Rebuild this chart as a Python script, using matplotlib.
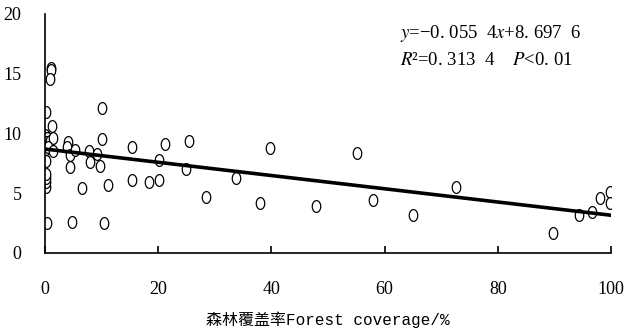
import numpy as np
import matplotlib
matplotlib.use("Agg")
import matplotlib.pyplot as plt

# scatter data
forest = [0.3, 0.2, 0.2, 0.2, 0.2, 0.2, 0.2, 0.2, 0.2, 0.0, 0.3, 0.2, 0.9, 1.4,
          0.1, 0.6, 1.5, 1.0, 1.0, 0.9, 0.2, 1.2,
          4.1, 3.8, 4.4, 5.3, 4.4, 4.7, 6.5, 7.8, 7.95, 9.2, 9.7, 10.0, 10.0,
          10.4, 11.2, 15.3, 15.3, 18.3, 20.2, 20.2, 21.2, 24.9, 25.5, 28.4,
          33.7, 37.9, 39.75, 47.9, 55.2, 57.9, 65.1, 72.6, 89.8, 94.3, 96.7,
          98.1, 99.8, 99.8]
value = [2.5, 5.55, 5.9, 6.25, 6.65, 7.7, 9.0, 9.45, 9.7, 9.9, 9.6, 9.3, 9.35, 9.6,
         8.7, 8.9, 8.5, 15.5, 15.3, 14.6, 11.8, 10.65,
         9.3, 8.9, 8.2, 8.6, 7.2, 2.6, 5.4, 8.5, 7.6, 8.3, 7.3, 12.1, 9.5,
         2.5, 5.7, 8.85, 6.1, 5.97, 6.1, 7.8, 9.1, 7.0, 9.4, 4.7,
         6.25, 4.2, 8.75, 3.9, 8.4, 4.4, 3.2, 5.5, 1.65, 3.2, 3.4,
         4.6, 5.1, 4.2]

slope = -0.0554
intercept = 8.6976
x_ticks = [0, 20, 40, 60, 80, 100]
y_ticks = [0, 5, 10, 15, 20]

# tall open oval marker
t = np.linspace(0, 2 * np.pi, 40)
oval = np.column_stack([0.72 * np.cos(t), np.sin(t)])

fig = plt.figure(figsize=(6.4, 3.35), dpi=100)
ax = fig.add_axes([0.0703, 0.2448, 0.8844, 0.7135])

ax.plot(forest, value, linestyle="none", marker=oval, markersize=8.5,
        markerfacecolor="white", markeredgecolor="black", markeredgewidth=0.9)

xl = np.array([0, 100])
ax.plot(xl, slope * xl + intercept, color="black", linewidth=2.6)

ax.set_xlim(0, 100)
ax.set_ylim(0, 20)
ax.set_xticks(x_ticks)
ax.set_yticks(y_ticks)
for sp in ["top", "right"]:
    ax.spines[sp].set_visible(False)
for sp in ["left", "bottom"]:
    ax.spines[sp].set_linewidth(1.2)
ax.tick_params(axis="x", direction="in", length=5, width=1.2, pad=20)
ax.tick_params(axis="y", direction="in", length=0, pad=17)
for lab in ax.get_xticklabels() + ax.get_yticklabels():
    lab.set_family("Liberation Serif")
    lab.set_fontsize(13)

ax.set_xlabel("森林覆盖率Forest coverage/%", family=["Liberation Mono", "Noto Sans CJK SC"],
              fontsize=11.5, labelpad=10)

ax.text(0.627, 0.92, "$y$=−0. 055  4$x$+8. 697  6", transform=ax.transAxes,
        family="Liberation Serif", fontsize=13.5, va="center",
        math_fontfamily="stix")
ax.text(0.627, 0.805, "$R$²=0. 313  4    $P$<0. 01", transform=ax.transAxes,
        family="Liberation Serif", fontsize=13.5, va="center",
        math_fontfamily="stix")

fig.savefig("out.png", dpi=100)
